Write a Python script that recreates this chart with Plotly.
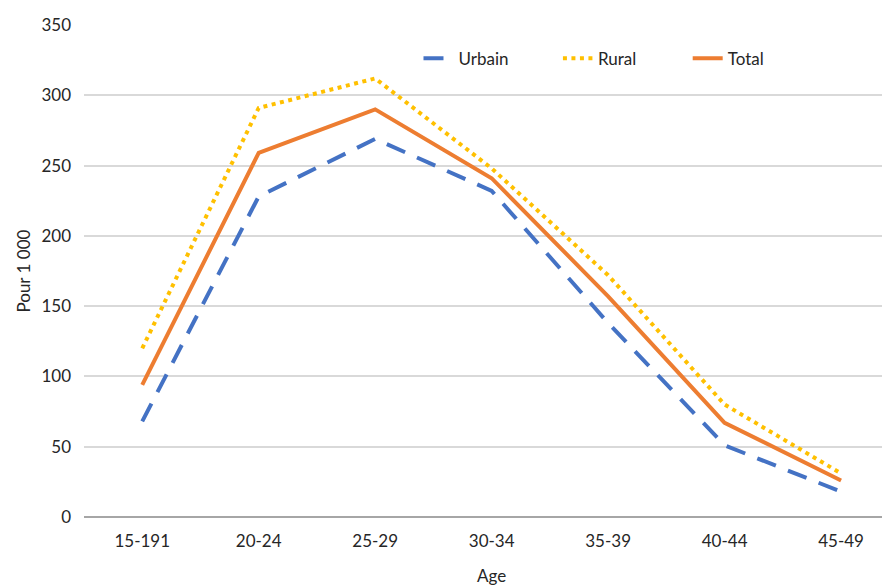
import plotly.graph_objects as go

AGE_GROUPS = ["15-191", "20-24", "25-29", "30-34", "35-39", "40-44", "45-49"]
URBAIN = [68, 228, 269, 232, 138, 51, 18]
RURAL = [120, 291, 312, 248, 172, 80, 31]
TOTAL = [94, 259, 290, 241, 157, 67, 26]

COLORS = {"Urbain": "#4472C4", "Rural": "#FFC000", "Total": "#ED7D31"}
FONT = "Lato, 'Open Sans', sans-serif"

fig = go.Figure()
fig.add_trace(go.Scatter(
    x=AGE_GROUPS, y=URBAIN, name="Urbain", mode="lines", legend="legend",
    line=dict(color=COLORS["Urbain"], width=4, dash="20px,13px"),
))
fig.add_trace(go.Scatter(
    x=AGE_GROUPS, y=RURAL, name="Rural", mode="lines", legend="legend2",
    line=dict(color=COLORS["Rural"], width=4, dash="4px,4.5px"),
))
fig.add_trace(go.Scatter(
    x=AGE_GROUPS, y=TOTAL, name="Total", mode="lines", legend="legend3",
    line=dict(color=COLORS["Total"], width=4),
))

# one legend per series so the entries can be spaced like the original
def legend_at(x):
    return dict(x=x, xanchor="left", y=0.9315, yanchor="middle",
                orientation="h", font=dict(size=17), bgcolor="rgba(0,0,0,0)")

# page body has an 8px default margin, so the figure is sized to fit inside it
fig.update_layout(
    width=882,
    height=578,
    margin=dict(l=75.5, r=0, t=17.3, b=68.7),
    plot_bgcolor="white",
    paper_bgcolor="white",
    font=dict(family=FONT, size=17, color="#262626"),
    showlegend=True,
    legend=legend_at(0.415),
    legend2=legend_at(0.588),
    legend3=legend_at(0.749),
    xaxis=dict(
        type="category", range=[-0.5, 6.42], showgrid=False,
        showline=False, ticks="", ticklabelstandoff=12,
    ),
    yaxis=dict(
        range=[0, 350], dtick=50, gridcolor="#d9d9d9", gridwidth=1.5,
        zeroline=True, zerolinecolor="#a6a6a6", zerolinewidth=2,
        ticks="", ticklabelstandoff=12,
    ),
    annotations=[
        dict(text="Pour 1 000", xref="paper", yref="paper", x=-0.0763, y=0.5,
             textangle=-90, showarrow=False, font=dict(size=17),
             xanchor="center", yanchor="middle"),
        dict(text="Age", xref="x", yref="paper", x=3, y=-0.119,
             showarrow=False, font=dict(size=17),
             xanchor="center", yanchor="middle"),
    ],
)

fig.write_html("out.html")
